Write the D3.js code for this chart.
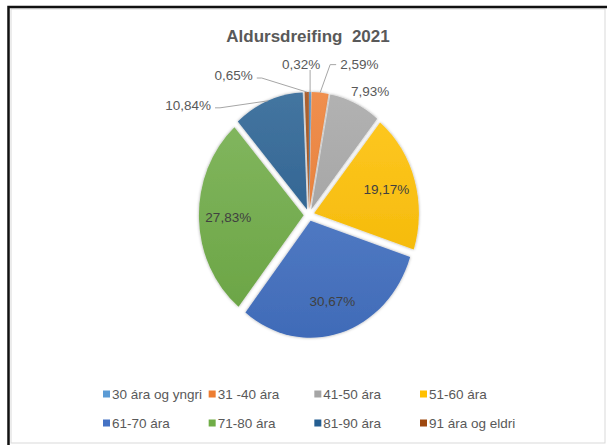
<!DOCTYPE html>
<html>
	<head>
		<meta charset="utf-8">
		<script src="https://d3js.org/d3.v7.min.js"></script>
		<style>
			body {
				margin: 0;
				background-color: white;
			}

			svg {
				display: block;
				font-family: Arial, "Liberation Sans", sans-serif;
			}

			.title {
				white-space: pre;
			}
		</style>
	</head>
	<body>
		<svg width="607" height="445"></svg>
		<script>
			var title = "Aldursdreifing  2021"
			var categories = ["30 ára og yngri", "31 -40 ára", "41-50 ára", "51-60 ára", "61-70 ára", "71-80 ára", "81-90 ára", "91 ára og eldri"]
			var shares = [0.32, 2.59, 7.93, 19.17, 30.67, 27.83, 10.84, 0.65]
			var colors = ["#5B9BD5", "#ED7D31", "#A5A5A5", "#FFC000", "#4472C4", "#70AD47", "#255E91", "#9E480E"]

			var width = 607
			var height = 445
			var cx = 309
			var cy = 215
			var radius = 117
			var explode = 6
			var squash = 0.895

			// where the labels go: inside the slice, or outside with an offset from the slice edge
			var labelLayout = [
				{ dx: -9, dy: -28, anchor: "middle", leader: "vertical" },
				{ dx: 20, dy: -28, anchor: "start", leader: "elbowLeft" },
				{ dx: 15, dy: -12, anchor: "middle", leader: "none" },
				{ inside: true },
				{ inside: true },
				{ inside: true },
				{ dx: -57, dy: 4, anchor: "end", leader: "elbowRight" },
				{ dx: -54, dy: -17, anchor: "end", leader: "elbowRight" }
			]

			var svg = d3.select("svg")
			var defs = svg.append("defs")

			var shadow = defs.append("filter")
				.attr("id", "shadow")
				.attr("x", "-20%").attr("y", "-20%")
				.attr("width", "140%").attr("height", "140%")
			shadow.append("feDropShadow")
				.attr("dx", 0).attr("dy", 0)
				.attr("stdDeviation", 1.6)
				.attr("flood-color", "#000")
				.attr("flood-opacity", 0.35)

			colors.forEach((c, i) => {
				var g = defs.append("linearGradient")
					.attr("id", "grad" + i)
					.attr("gradientUnits", "userSpaceOnUse")
					.attr("x1", 0).attr("y1", -radius)
					.attr("x2", 0).attr("y2", radius)
				g.append("stop").attr("offset", "0%").attr("stop-color", d3.interpolateRgb(c, "#ffffff")(0.14))
				g.append("stop").attr("offset", "100%").attr("stop-color", d3.interpolateRgb(c, "#000000")(0.06))
			})

			// frame
			svg.append("rect")
				.attr("x", 11).attr("y", 9)
				.attr("width", 594).attr("height", 434)
				.attr("fill", "white")
				.attr("stroke", "#d9d9d9")
				.attr("stroke-width", 1)
			svg.append("path")
				.attr("d", "M8.5,445 V7 H607")
				.attr("fill", "none")
				.attr("stroke", "#111")
				.attr("stroke-width", 2.5)

			svg.append("text")
				.attr("class", "title")
				.attr("x", 308)
				.attr("y", 42)
				.attr("text-anchor", "middle")
				.attr("font-size", 17)
				.attr("font-weight", "bold")
				.attr("fill", "#595959")
				.text(title)

			var pie = d3.pie().sort(null).value(d => d)
			var arcs = pie(shares)
			var arc = d3.arc().innerRadius(0).outerRadius(radius)

			function mid(a) {
				return (a.startAngle + a.endAngle) / 2
			}

			function point(a, angle, r) {
				var m = mid(a)
				var ox = explode * Math.sin(m)
				var oy = -explode * Math.cos(m)
				return [cx + squash * (ox + r * Math.sin(angle)), cy + oy - r * Math.cos(angle)]
			}

			var pieGroup = svg.append("g")
				.attr("transform", "translate(" + cx + "," + cy + ") scale(" + squash + ",1)")

			pieGroup.selectAll("path")
				.data(arcs)
				.enter()
				.append("path")
				.attr("transform", d => "translate(" + (explode * Math.sin(mid(d))) + "," + (-explode * Math.cos(mid(d))) + ")")
				.attr("d", arc)
				.attr("fill", (d, i) => "url(#grad" + i + ")")
				.attr("filter", "url(#shadow)")

			var labels = svg.append("g")
				.attr("font-size", 13.5)

			arcs.forEach((a, i) => {
				var lay = labelLayout[i]
				var txt = a.data.toFixed(2).replace(".", ",") + "%"

				if(lay.inside) {
					var p = point(a, mid(a), radius * 0.72)
					labels.append("text")
						.attr("x", p[0])
						.attr("y", p[1])
						.attr("dy", "0.35em")
						.attr("text-anchor", "middle")
						.attr("fill", "#404040")
						.text(txt)
					return
				}

				var edge = point(a, mid(a), radius)
				var tx = edge[0] + lay.dx
				var ty = edge[1] + lay.dy
				var line = null

				if(lay.leader == "vertical") {
					line = [edge, [edge[0], ty + 6]]
				} else if(lay.leader == "elbowLeft") {
					line = [edge, [tx - 10, ty], [tx - 4, ty]]
				} else if(lay.leader == "elbowRight") {
					line = [edge, [tx + 9, ty + 3], [tx + 4, ty + 3]]
				}

				if(line) {
					labels.append("path")
						.attr("d", d3.line()(line))
						.attr("fill", "none")
						.attr("stroke", "#a6a6a6")
						.attr("stroke-width", 1)
				}

				labels.append("text")
					.attr("x", tx)
					.attr("y", ty)
					.attr("dy", "0.35em")
					.attr("text-anchor", lay.anchor)
					.attr("fill", "#595959")
					.text(txt)
			})

			// legend, two rows of four
			var legendX = d3.scalePoint().domain(d3.range(4)).range([103, 420])
			var legendY = d3.scalePoint().domain(d3.range(2)).range([394, 423])

			var legend = svg.append("g")
				.selectAll("g")
				.data(categories)
				.enter()
				.append("g")
				.attr("transform", (d, i) => "translate(" + legendX(i % 4) + "," + legendY(Math.floor(i / 4)) + ")")

			legend.append("rect")
				.attr("x", 0).attr("y", -3.5)
				.attr("width", 7).attr("height", 7)
				.attr("fill", (d, i) => colors[i])

			legend.append("text")
				.attr("x", 9)
				.attr("y", 0)
				.attr("dy", "0.35em")
				.attr("font-size", 13.5)
				.attr("fill", "#595959")
				.text(d => d)
		</script>
	</body>
</html>
